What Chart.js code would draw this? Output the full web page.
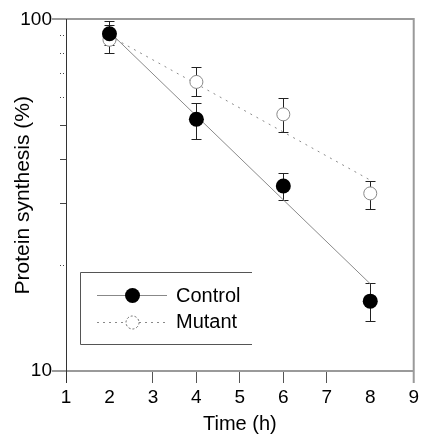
<!DOCTYPE html>
<html>
<head>
<meta charset="utf-8">
<script src="https://cdn.jsdelivr.net/npm/chart.js@4"></script>
<style>
html,body{margin:0;padding:0;background:#fff;}
#wrap{width:422px;height:436px;position:relative;}
</style>
</head>
<body>
<div id="wrap"><canvas id="c" width="422" height="436"></canvas></div>
<script>
// ---- data ----
const times = [2, 4, 6, 8];
const controlMean  = [91.0, 52.0, 33.6, 15.8];
const controlUpper = [98.9, 58.0, 36.6, 17.8];
const controlLower = [84.3, 45.8, 30.7, 13.9];
const mutantMean   = [87.5, 66.4, 53.7, 32.0];
const mutantUpper  = [96.2, 73.2, 59.8, 34.7];
const mutantLower  = [80.0, 60.5, 47.8, 28.8];
const fitTimes = [2, 8];
const controlFit = [92.1, 17.7];
const mutantFit  = [89.8, 34.9];
const xTicks = [1, 2, 3, 4, 5, 6, 7, 8, 9];
const yTicks = [10, 20, 30, 40, 50, 60, 70, 80, 90, 100];
const yLabels = [10, 100];
const seriesNames = ['Control', 'Mutant'];

const FONT = '"Liberation Sans", Arial, sans-serif';

const pts = (xs, ys) => xs.map((x, i) => ({x: x, y: ys[i]}));

const errorBars = {
  id: 'errorBars',
  beforeDatasetsDraw(chart) {
    const ctx = chart.ctx, xs = chart.scales.x, ys = chart.scales.y;
    ctx.save();
    ctx.strokeStyle = '#222';
    ctx.lineWidth = 1;
    const draw = (up, lo) => {
      times.forEach((t, i) => {
        const px = Math.round(xs.getPixelForValue(t)) + 0.5;
        const y1 = Math.round(ys.getPixelForValue(up[i])) + 0.5;
        const y2 = Math.round(ys.getPixelForValue(lo[i])) + 0.5;
        ctx.beginPath();
        ctx.moveTo(px, y1); ctx.lineTo(px, y2);
        ctx.moveTo(px - 5, y1); ctx.lineTo(px + 5, y1);
        ctx.moveTo(px - 5, y2); ctx.lineTo(px + 5, y2);
        ctx.stroke();
      });
    };
    draw(mutantUpper, mutantLower);
    draw(controlUpper, controlLower);
    ctx.restore();
  }
};

const frame = {
  id: 'frame',
  afterDraw(chart) {
    const ctx = chart.ctx, a = chart.chartArea, ys = chart.scales.y;
    const top = Math.round(ys.getPixelForValue(100));
    const bot = Math.round(ys.getPixelForValue(10));
    ctx.save();
    ctx.strokeStyle = '#9a9a9a';
    ctx.lineWidth = 2;
    ctx.beginPath();
    ctx.moveTo(52, top); ctx.lineTo(a.right + 1, top);
    ctx.moveTo(52, bot); ctx.lineTo(a.right + 1, bot);
    ctx.moveTo(a.right, top); ctx.lineTo(a.right, bot + 12);
    ctx.stroke();
    ctx.strokeStyle = '#333';
    ctx.lineWidth = 1;
    ctx.beginPath();
    ctx.moveTo(Math.round(a.left) + 0.5, top); ctx.lineTo(Math.round(a.left) + 0.5, bot + 12);
    ctx.stroke();

    // legend
    const L = 80.5, T = 272.5, B = 344.5, R = 252;
    ctx.strokeStyle = '#555';
    ctx.lineWidth = 1;
    ctx.beginPath();
    ctx.moveTo(R, T); ctx.lineTo(L, T); ctx.lineTo(L, B); ctx.lineTo(R, B);
    ctx.stroke();
    const rows = [295.5, 322.5];
    ctx.strokeStyle = '#888';
    ctx.beginPath(); ctx.moveTo(97, rows[0]); ctx.lineTo(167, rows[0]); ctx.stroke();
    ctx.fillStyle = '#000';
    ctx.beginPath(); ctx.arc(132.5, rows[0], 7.5, 0, Math.PI * 2); ctx.fill();
    ctx.setLineDash([2, 4]);
    ctx.beginPath(); ctx.moveTo(97, rows[1]); ctx.lineTo(167, rows[1]); ctx.stroke();
    ctx.setLineDash([2, 2]);
    ctx.fillStyle = '#fff';
    ctx.strokeStyle = '#666';
    ctx.beginPath(); ctx.arc(132.5, rows[1], 6.5, 0, Math.PI * 2); ctx.fill(); ctx.stroke();
    ctx.setLineDash([]);
    ctx.fillStyle = '#000';
    ctx.font = '20px ' + FONT;
    ctx.textBaseline = 'middle';
    ctx.textAlign = 'left';
    ctx.fillText(seriesNames[0], 176, 296);
    ctx.fillText(seriesNames[1], 176, 322);
    ctx.restore();
  }
};

new Chart(document.getElementById('c'), {
  type: 'scatter',
  data: {
    datasets: [
      {label: 'Control fit', type: 'line', data: pts(fitTimes, controlFit), showLine: true,
       borderColor: '#8a8a8a', borderWidth: 1, pointRadius: 0, fill: false, order: 4},
      {label: 'Mutant fit', type: 'line', data: pts(fitTimes, mutantFit), showLine: true,
       borderColor: '#8a8a8a', borderWidth: 1, borderDash: [2, 5], pointRadius: 0, fill: false, order: 3},
      {label: seriesNames[1], data: pts(times, mutantMean), pointRadius: 6.5,
       pointBackgroundColor: '#fff', pointBorderColor: '#888', pointBorderWidth: 1, order: 2},
      {label: seriesNames[0], data: pts(times, controlMean), pointRadius: 7.5,
       pointBackgroundColor: '#000', pointBorderColor: '#000', pointBorderWidth: 0, order: 1}
    ]
  },
  options: {
    responsive: false,
    animation: false,
    events: [],
    layout: {padding: {top: 19, right: 6, left: 0, bottom: 0}},
    plugins: {legend: {display: false}, tooltip: {enabled: false}},
    scales: {
      x: {
        type: 'linear', min: 1, max: 9,
        afterBuildTicks: s => { s.ticks = xTicks.map(v => ({value: v})); },
        afterFit: s => { s.height = 65; },
        border: {display: false},
        grid: {drawOnChartArea: false, drawTicks: true, tickLength: 12,
               tickColor: c => (c.tick && [1, 2, 8, 9].includes(c.tick.value)) ? 'rgba(0,0,0,0)' : '#555'},
        ticks: {color: '#000', padding: 3, font: {family: FONT, size: 19}, maxRotation: 0,
                callback: v => String(v)},
        title: {display: true, text: 'Time (h)', color: '#000',
                font: {family: FONT, size: 20}, padding: {top: 0, bottom: 0}}
      },
      y: {
        type: 'logarithmic', min: 10, max: 100,
        afterBuildTicks: s => { s.ticks = yTicks.map(v => ({value: v})); },
        afterFit: s => { s.width = 66; },
        border: {display: false},
        grid: {drawOnChartArea: false, drawTicks: true, tickLength: 6,
               tickColor: c => (c.tick && (c.tick.value === 10 || c.tick.value === 100)) ? 'rgba(0,0,0,0)' : '#444',
               tickBorderDash: c => (c.tick && [30, 40, 50].includes(c.tick.value)) ? [] : [1, 2]},
        ticks: {color: '#000', padding: 8, font: {family: FONT, size: 19}, autoSkip: false,
                callback: v => yLabels.includes(v) ? String(v) : ''},
        title: {display: true, text: 'Protein synthesis (%)', color: '#000',
                font: {family: FONT, size: 21}, padding: {top: 11, bottom: 0}}
      }
    }
  },
  plugins: [errorBars, frame]
});
</script>
</body>
</html>
